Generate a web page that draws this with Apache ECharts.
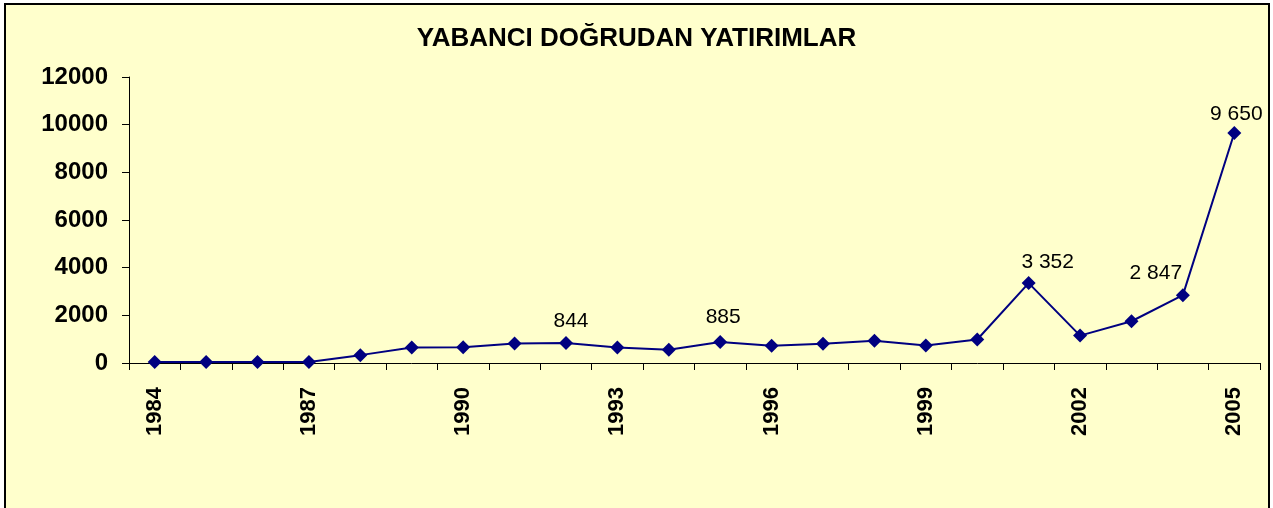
<!DOCTYPE html>
<html>
<head>
<meta charset="utf-8">
<script src="https://cdn.jsdelivr.net/npm/echarts@6/dist/echarts.min.js"></script>
<style>
html,body{margin:0;padding:0;background:#fff;}
#c{width:1273px;height:508px;}
</style>
</head>
<body>
<div id="c"></div>
<script>
var years = ['1984','1985','1986','1987','1988','1989','1990','1991','1992','1993','1994','1995','1996','1997','1998','1999','2000','2001','2002','2003','2004','2005'];
var values = [45, 45, 45, 45, 330, 655, 660, 820, 844, 650, 560, 885, 722, 805, 930, 735, 985, 3352, 1150, 1752, 2847, 9650];
var labelTexts = ['', '', '', '', '', '', '', '', '844', '', '', '885', '', '', '', '', '', '3 352', '', '', '2 847', '9 650'];
var yTicks = {min: 0, max: 12000, step: 2000};

var labelOffsets = {8: [5, -22], 11: [3, -25], 17: [19, -21], 20: [-27, -22], 21: [2, -19]};

var seriesData = values.map(function (v, i) {
  var item = {value: v};
  if (labelTexts[i]) {
    item.label = {
      show: true,
      position: 'inside',
      offset: labelOffsets[i] || [0, -22],
      formatter: labelTexts[i],
      color: '#000',
      fontSize: 21,
      fontFamily: 'Liberation Sans, Arial, sans-serif'
    };
  }
  return item;
});

var chart = echarts.init(document.getElementById('c'), null, {renderer: 'canvas'});
chart.setOption({
  backgroundColor: '#ffffff',
  animation: false,
  graphic: [{
    type: 'rect',
    z: -10,
    silent: true,
    shape: {x: 5, y: 4, width: 1264, height: 520},
    style: {fill: '#FFFFCC', stroke: '#000', lineWidth: 2}
  }],
  title: {
    text: 'YABANCI DOĞRUDAN YATIRIMLAR',
    left: 'center',
    top: 21,
    textStyle: {fontSize: 26, fontWeight: 'bold', color: '#000', fontFamily: 'Liberation Sans, Arial, sans-serif'}
  },
  grid: {left: 129, right: 13, top: 77, bottom: 145, containLabel: false},
  xAxis: {
    type: 'category',
    data: years,
    boundaryGap: true,
    axisLine: {lineStyle: {color: '#000', width: 1}},
    axisTick: {show: true, interval: 0, length: 7, lineStyle: {color: '#000'}},
    axisLabel: {
      interval: 2,
      rotate: 90,
      margin: 24,
      color: '#000',
      fontSize: 22,
      fontWeight: 'bold',
      fontFamily: 'Liberation Sans, Arial, sans-serif'
    },
    splitLine: {show: false}
  },
  yAxis: {
    type: 'value',
    min: yTicks.min,
    max: yTicks.max,
    interval: yTicks.step,
    axisLine: {show: true, lineStyle: {color: '#000', width: 1}},
    axisTick: {show: true, length: 7, lineStyle: {color: '#000'}},
    axisLabel: {
      margin: 21,
      formatter: function (v) { return String(v); },
      color: '#000',
      fontSize: 24,
      fontWeight: 'bold',
      fontFamily: 'Liberation Sans, Arial, sans-serif'
    },
    splitLine: {show: false}
  },
  series: [{
    type: 'line',
    data: seriesData,
    symbol: 'diamond',
    symbolSize: 14,
    lineStyle: {color: '#000080', width: 2},
    itemStyle: {color: '#000080'},
    label: {show: false}
  }]
});
</script>
</body>
</html>
